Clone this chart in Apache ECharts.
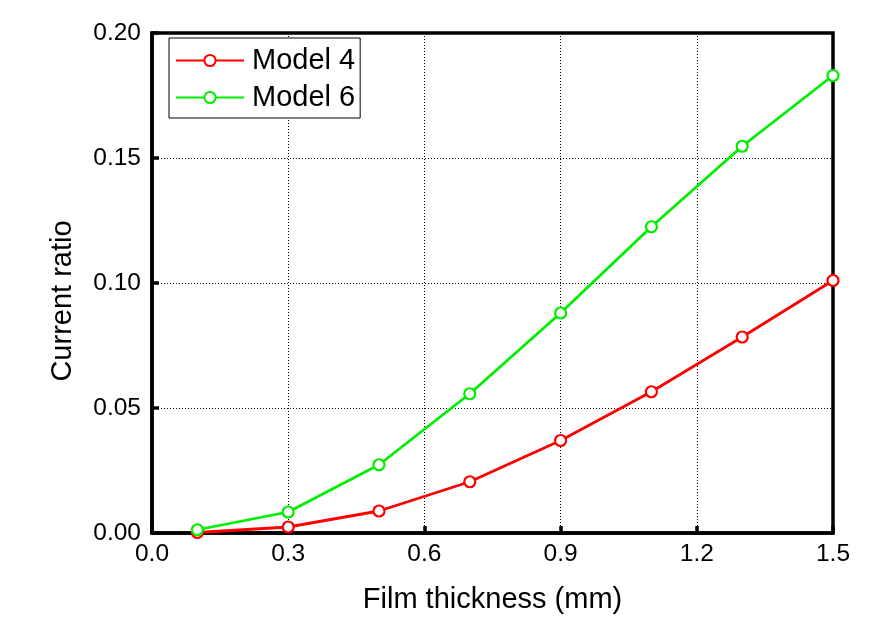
<!DOCTYPE html>
<html><head><meta charset="utf-8">
<script src="https://cdn.jsdelivr.net/npm/echarts@6/dist/echarts.min.js"></script>
<style>html,body{margin:0;padding:0;background:#fff}#c{width:884px;height:628px}</style>
</head><body><div id="c"></div>
<script>
const thickness = [0.1, 0.3, 0.5, 0.7, 0.9, 1.1, 1.3, 1.5];
const model4 = [0.0002, 0.0024, 0.0088, 0.0205, 0.0370, 0.0565, 0.0784, 0.1010];
const model6 = [0.0013, 0.0084, 0.0273, 0.0557, 0.0880, 0.1225, 0.1547, 0.1830];
const seriesNames = ['Model 4', 'Model 6'];
const colors = ['#ff0000', '#00ee00'];
const FONT = "'Liberation Sans', Arial, sans-serif";

const chart = echarts.init(document.getElementById('c'));
function mk(name, vals, color) {
  return {
    name: name, type: 'line',
    data: thickness.map((x, i) => [x, vals[i]]),
    symbol: 'circle', symbolSize: 11,
    itemStyle: { color: '#fff', borderColor: color, borderWidth: 2.2 },
    lineStyle: { color: color, width: 2.8 },
    z: 5
  };
}
chart.setOption({
  animation: false,
  backgroundColor: '#fff',
  grid: { left: 152, right: 51, top: 33, bottom: 95, show: true, borderColor: '#000', borderWidth: 3.5, z: 4 },
  legend: {
    orient: 'vertical', left: 169, top: 38,
    data: seriesNames,
    itemWidth: 68, itemHeight: 14, itemGap: 8,
    padding: [8, 5, 6, 6],
    borderColor: '#000', borderWidth: 1, backgroundColor: '#fff',
    textStyle: { fontFamily: FONT, fontSize: 29, color: '#000', padding: [0, 0, 0, 3] }
  },
  xAxis: {
    type: 'value', min: 0, max: 1.5, interval: 0.3,
    name: 'Film thickness (mm)', nameLocation: 'middle', nameGap: 52,
    nameTextStyle: { fontFamily: FONT, fontSize: 29, color: '#000' },
    axisLine: { lineStyle: { color: '#000', width: 3.5 } },
    axisTick: { inside: true, length: 7, lineStyle: { color: '#000', width: 3.5 } },
    axisLabel: { fontFamily: FONT, fontSize: 24.5, color: '#000', margin: 9, formatter: v => v.toFixed(1) },
    splitLine: { show: true, lineStyle: { color: '#000', width: 1, type: [1, 2] } }
  },
  yAxis: {
    type: 'value', min: 0, max: 0.2, interval: 0.05,
    name: 'Current ratio', nameLocation: 'middle', nameGap: 75,
    nameTextStyle: { fontFamily: FONT, fontSize: 29, color: '#000', padding: [0, 36, 0, 0] },
    axisLine: { lineStyle: { color: '#000', width: 3.5 } },
    axisTick: { inside: true, length: 7, lineStyle: { color: '#000', width: 3.5 } },
    axisLabel: { fontFamily: FONT, fontSize: 24.5, color: '#000', margin: 11, formatter: v => v.toFixed(2) },
    splitLine: { show: true, lineStyle: { color: '#000', width: 1, type: [1, 2] } }
  },
  series: [mk(seriesNames[0], model4, colors[0]), mk(seriesNames[1], model6, colors[1])]
});
</script></body></html>
